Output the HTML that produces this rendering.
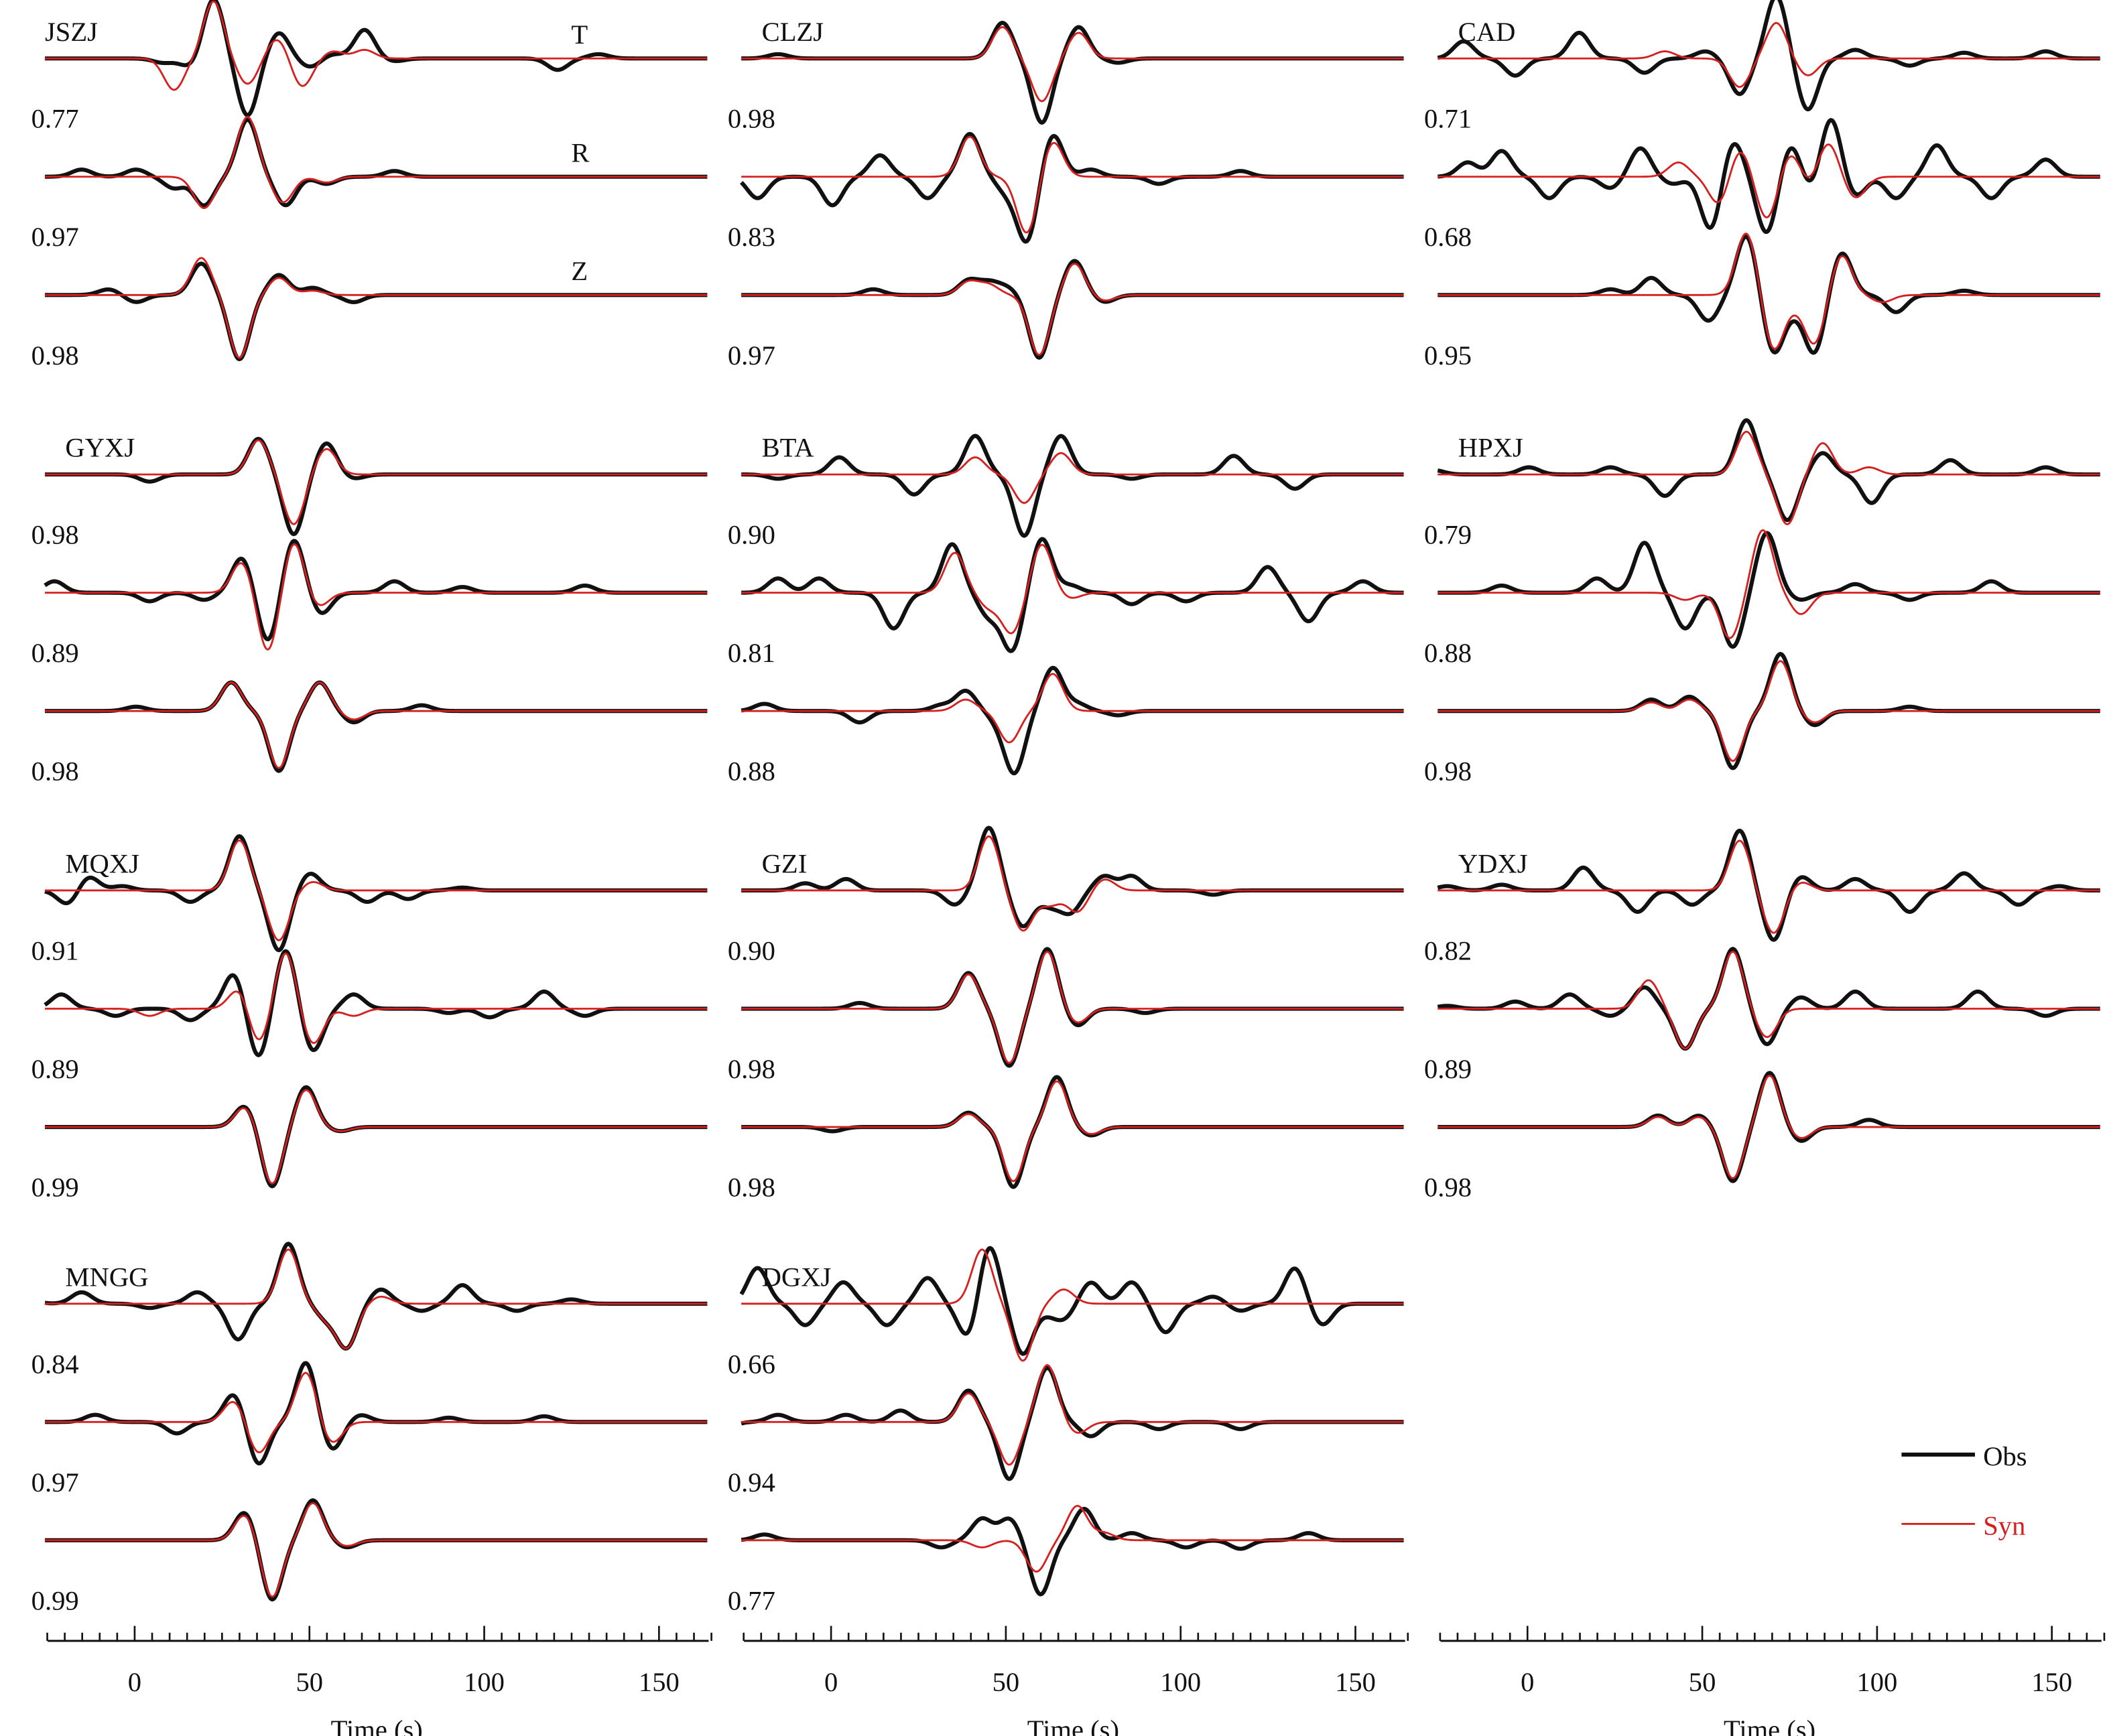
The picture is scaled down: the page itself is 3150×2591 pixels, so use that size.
<!DOCTYPE html>
<html><head><meta charset="utf-8"><style>
html,body{margin:0;padding:0;background:#fff;}
svg{display:block;}
text{font-family:"Liberation Serif",serif;}
</style></head><body>
<svg id="s" width="3150" height="2591" viewBox="0 0 1552 1277" preserveAspectRatio="none" xmlns="http://www.w3.org/2000/svg">
<rect width="1552" height="1277" fill="#fff"/>
<g id="traces"></g>
<g id="labels" font-size="20" fill="#111"></g>
<g id="axes"></g>
<line x1="1398" y1="1070" x2="1452" y2="1070" stroke="#111" stroke-width="3"/>
<text x="1458" y="1078" font-size="20" fill="#111">Obs</text>
<line x1="1398" y1="1121" x2="1452" y2="1121" stroke="#d62020" stroke-width="1.4"/>
<text x="1458" y="1129" font-size="20" fill="#d62020">Syn</text>
</svg>
<script>
var D=[
[0,0,"JSZJ",[
{o:[[120,-3],[140,-6],[157,42],[182,-40],[205,18],[228,-6],[245,3],[268,20],[290,-2],[410,-8],[440,3]],s:[[128,-22],[157,40],[182,-18],[204,14],[222,-20],[245,5],[268,6]]},
{o:[[60,5],[100,5],[128,-8],[150,-20],[182,40],[210,-20],[240,-5],[290,4]],s:[[150,-22],[182,42],[208,-18],[240,-4]]},
{o:[[80,4],[100,-5],[148,22],[176,-45],[205,14],[230,5],[260,-5]],s:[[148,26],[176,-44],[205,12],[230,3]]}],["0.77","0.97","0.98"]],
[1,0,"CLZJ",[
{o:[[60,3],[225,25],[254,-45],[281,22],[310,-3]],s:[[225,22],[254,-30],[281,18]]},
{o:[[10,12],[45,-15],[100,-20],[135,15],[170,-15],[201,30],[228,-10],[243,-45],[262,30],[290,5],[340,-5],[400,4]],s:[[201,28],[243,-40],[262,25]]},
{o:[[130,4],[200,10],[215,8],[228,5],[252,-44],[278,24],[300,-5]],s:[[200,9],[215,7],[252,-42],[278,22],[300,-4]]}],["0.98","0.83","0.97"]],
[2,0,"CAD",[
{o:[[52,12],[90,-12],[137,18],[185,-10],[230,5],[255,-25],[282,44],[305,-36],[340,6],[380,-5],[420,4],[480,5]],s:[[200,5],[255,-20],[282,25],[305,-12]]},
{o:[[55,10],[80,18],[115,-15],[160,-8],[182,20],[206,-5],[234,-38],[250,26],[275,-40],[293,24],[307,-12],[322,42],[340,-14],[370,-15],[400,22],[440,-15],[480,12]],s:[[210,10],[240,-20],[255,20],[275,-30],[293,18],[305,-8],[320,24],[340,-15]]},
{o:[[160,4],[190,12],[232,-18],[260,42],[280,-40],[295,-8],[310,-40],[330,30],[370,-12],[420,3]],s:[[260,44],[280,-38],[295,-5],[310,-34],[330,28],[360,-5]]}],["0.71","0.68","0.95"]],
[0,1,"GYXJ",[
{o:[[110,-5],[190,25],[216,-42],[240,22],[260,-3]],s:[[190,24],[216,-35],[240,18]]},
{o:[[40,8],[110,-6],[150,-5],[178,25],[197,-35],[216,38],[236,-15],[290,8],[340,4],[430,5]],s:[[178,22],[197,-42],[216,36],[234,-10]]},
{o:[[100,3],[170,20],[205,-42],[235,20],[260,-8],[310,4]],s:[[170,20],[205,-40],[235,20],[260,-6]]}],["0.98","0.89","0.98"]],
[1,1,"BTA",[
{o:[[60,-3],[105,12],[160,-14],[205,27],[241,-43],[268,27],[320,-3],[395,13],[440,-10]],s:[[205,12],[241,-20],[268,15]]},
{o:[[5,-10],[60,10],[90,10],[145,-25],[188,34],[215,-16],[232,-40],[254,38],[275,5],[320,-8],[360,-6],[420,18],[450,-20],[490,8]],s:[[190,28],[215,-10],[232,-28],[254,34],[275,-4]]},
{o:[[50,5],[120,-8],[180,4],[198,14],[222,-6],[234,-42],[262,30],[280,5],[310,-3]],s:[[198,8],[230,-22],[262,26]]}],["0.90","0.81","0.88"]],
[2,1,"HPXJ",[
{o:[[30,3],[100,5],[160,5],[200,-15],[260,38],[290,-32],[316,15],[352,-20],[410,10],[480,5]],s:[[260,30],[290,-35],[316,22],[350,5]]},
{o:[[80,5],[150,10],[185,35],[215,-25],[250,-38],[275,42],[300,-5],[340,6],[380,-5],[440,8]],s:[[215,-5],[248,-32],[272,44],[300,-15]]},
{o:[[190,8],[218,10],[250,-40],[285,40],[310,-10],[380,3]],s:[[190,6],[218,8],[250,-35],[285,35],[310,-8]]}],["0.79","0.88","0.98"]],
[0,2,"MQXJ",[
{o:[[50,-10],[65,10],[90,3],[140,-8],[176,38],[205,-42],[228,12],[270,-8],[300,-6],[340,2]],s:[[176,35],[205,-35],[230,6]]},
{o:[[45,10],[85,-5],[140,-8],[172,25],[190,-35],[210,42],[230,-30],[260,10],[330,-3],[360,-6],[400,12],[430,-5]],s:[[110,-5],[176,15],[190,-25],[210,40],[230,-25],[260,-5]]},
{o:[[180,15],[200,-42],[225,28],[250,-3]],s:[[180,14],[200,-40],[225,26],[250,-3]]}],["0.91","0.89","0.99"]],
[1,2,"GZI",[
{o:[[80,5],[110,8],[190,-10],[215,44],[240,-25],[260,-10],[275,-15],[300,10],[320,10],[380,-3]],s:[[215,38],[240,-28],[260,-10],[280,-15],[300,8]]},
{o:[[120,4],[200,25],[230,-40],[258,42],[280,-12],[330,-3]],s:[[200,24],[230,-38],[258,40],[280,-10]]},
{o:[[100,-3],[200,10],[233,-42],[265,35],[290,-6]],s:[[200,9],[233,-38],[265,32],[290,-5]]}],["0.90","0.98","0.98"]],
[2,2,"YDXJ",[
{o:[[40,3],[80,4],[140,16],[180,-15],[220,-10],[255,42],[280,-35],[300,10],[340,8],[380,-15],[420,12],[460,-10],[490,3]],s:[[255,35],[280,-30],[300,6]]},
{o:[[40,2],[90,5],[130,10],[160,-5],[185,15],[215,-28],[250,42],[275,-25],[300,8],[340,12],[430,12],[480,-5]],s:[[188,20],[215,-28],[250,40],[275,-20]]},
{o:[[195,8],[225,8],[250,-38],[277,38],[300,-10],[350,5]],s:[[195,7],[225,7],[250,-36],[277,36],[300,-8]]}],["0.82","0.89","0.98"]],
[0,3,"MNGG",[
{o:[[20,3],[60,8],[110,-3],[145,8],[175,-25],[212,42],[240,-10],[255,-30],[280,10],[310,-5],[340,13],[380,-5],[420,3]],s:[[212,38],[240,-10],[255,-30],[280,5]]},
{o:[[70,5],[130,-8],[172,20],[190,-30],[225,42],[244,-20],[265,5],[330,3],[400,4]],s:[[172,15],[190,-22],[225,35],[244,-15]]},
{o:[[180,20],[200,-42],[230,28],[255,-5]],s:[[180,18],[200,-40],[230,26],[255,-4]]}],["0.84","0.97","0.99"]],
[1,3,"DGXJ",[
{o:[[10,-10],[45,25],[80,-15],[108,15],[140,-15],[170,18],[200,-25],[215,42],[240,-35],[258,-5],[270,-10],[290,15],[320,15],[345,-20],[380,5],[400,-5],[440,25],[460,-15],[490,0]],s:[[210,38],[240,-40],[270,10]]},
{o:[[20,-5],[60,5],[110,5],[150,8],[200,22],[230,-40],[258,38],[290,-10],[340,-5],[400,-5]],s:[[200,20],[230,-30],[258,40],[280,-8]]},
{o:[[50,4],[180,-5],[210,15],[230,15],[253,-38],[285,22],[320,5],[360,-5],[400,-6],[450,5]],s:[[210,-5],[250,-22],[280,24],[300,5]]}],["0.66","0.94","0.77"]]
];
var rowY=[43,349,655,959];
var offs=[0,512,1024];
var NS="http://www.w3.org/2000/svg";
var tg=document.getElementById("traces"),lg=document.getElementById("labels"),ag=document.getElementById("axes");
function el(tag,a,p,txt){var e=document.createElementNS(NS,tag);for(var k in a)e.setAttribute(k,a[k]);if(txt)e.textContent=txt;p.appendChild(e);return e;}
function path(b,ox,base,col,w){var d="";for(var x=33;x<=520;x++){var v=0;for(var i=0;i<b.length;i++){var dx=(x-b[i][0])/10.5;v+=1.05*b[i][1]*Math.exp(-dx*dx);}d+=(x==33?"M":"L")+(x+ox)+","+(base-v).toFixed(2);}
el("path",{d:d,fill:"none",stroke:col,"stroke-width":w,"stroke-linejoin":"round"},tg);}
D.forEach(function(r){var ox=offs[r[0]],y0=rowY[r[1]];
for(var k=0;k<3;k++){var b=y0+k*87;path(r[3][k].o,ox,b,"#111",3);path(r[3][k].s,ox,b,"#d62020",1.4);
el("text",{x:23+ox,y:b+51},lg,r[4][k]);}
el("text",{x:(r[1]==0&&r[0]==0?33:48)+ox,y:y0-13},lg,r[2]);
});
el("text",{x:420,y:32},lg,"T");el("text",{x:420,y:119},lg,"R");el("text",{x:420,y:206},lg,"Z");
for(var c=0;c<3;c++){var ox=offs[c];
el("line",{x1:35+ox,y1:1207,x2:521+ox,y2:1207,stroke:"#111","stroke-width":1.5},ag);
for(var t=-25;t<=165;t+=5){var x=99+ox+t*2.57;var maj=(t%50==0);
el("line",{x1:x,y1:1207,x2:x,y2:maj?1196:1201,stroke:"#111","stroke-width":1.3},ag);
if(maj)el("text",{x:x,y:1244,"font-size":20,"text-anchor":"middle",fill:"#111"},ag,""+t);}
el("text",{x:277+ox,y:1279,"font-size":20,"text-anchor":"middle",fill:"#111"},ag,"Time (s)");}
</script>
</body></html>
